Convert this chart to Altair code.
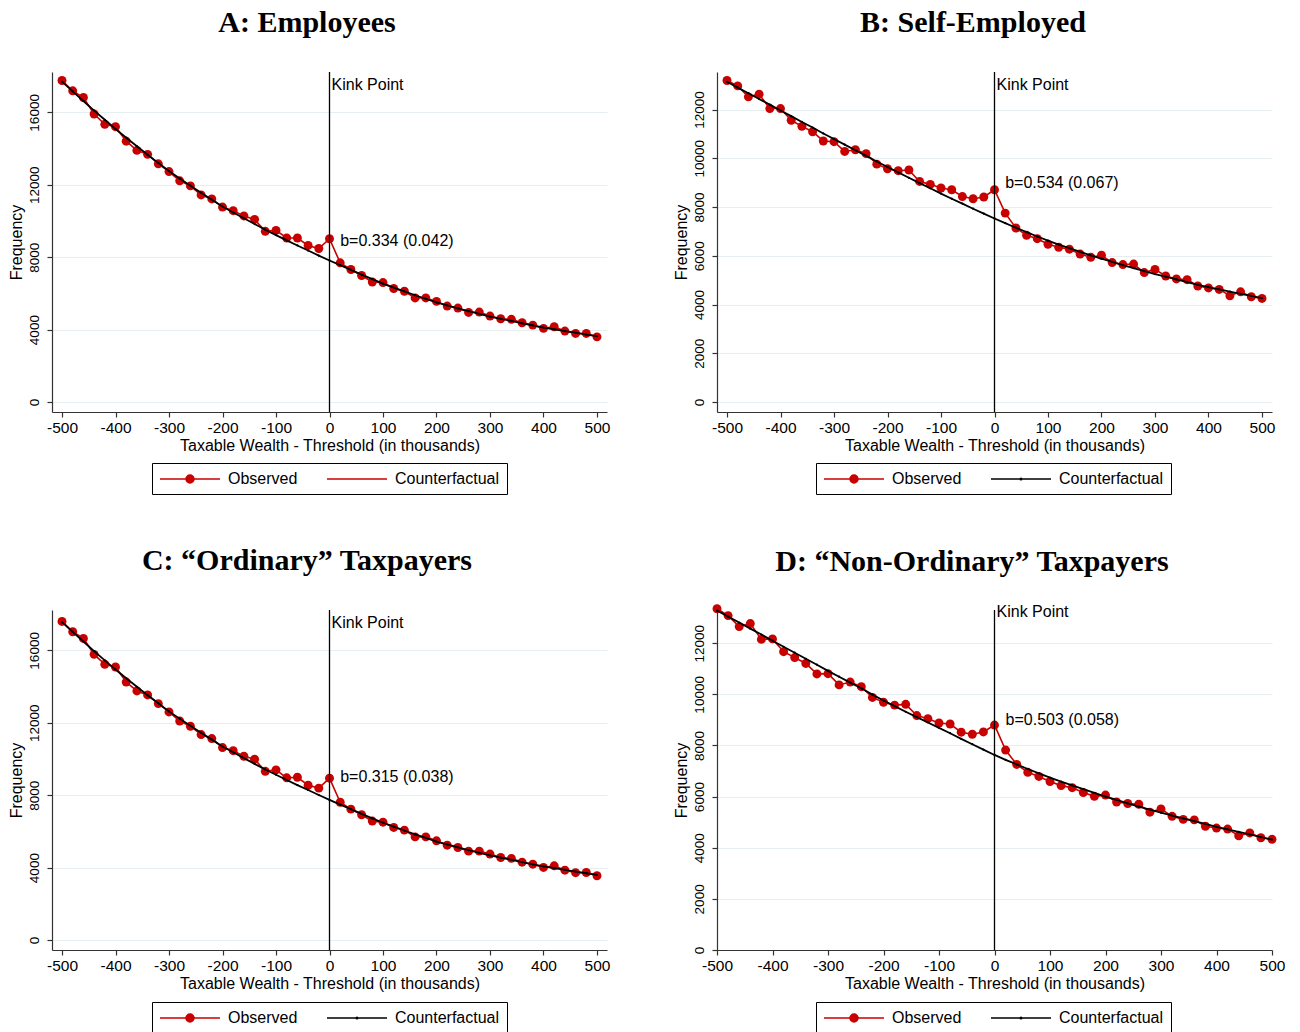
import altair as alt
import pandas as pd

# ---------------- data ----------------
X = list(range(-500, 501, 20))
SERIES = ["Observed", "Counterfactual"]
XTICKS = [-500, -400, -300, -200, -100, 0, 100, 200, 300, 400, 500]
KINK = [0]

A_OBS = [17760, 17190, 16820, 15910, 15340, 15210, 14410, 13900, 13680, 13160, 12730,
         12220, 11940, 11440, 11220, 10770, 10570, 10280, 10090, 9430, 9480, 9060, 9060,
         8650, 8480, 9020, 7690, 7320, 6990, 6630, 6600, 6270, 6120, 5750, 5750, 5560,
         5300, 5190, 4950, 4970, 4750, 4600, 4570, 4380, 4250, 4070, 4160, 3920, 3790,
         3790, 3600]
A_CF = [17700, 17160, 16630, 16100, 15590, 15080, 14600, 14130, 13660, 13210, 12760,
        12350, 11950, 11560, 11180, 10800, 10470, 10150, 9830, 9520, 9220, 8930, 8650,
        8370, 8090, 7820, 7560, 7300, 7040, 6790, 6540, 6320, 6110, 5900, 5700, 5500,
        5340, 5180, 5020, 4870, 4720, 4600, 4480, 4350, 4230, 4110, 4020, 3920, 3830,
        3730, 3640]

B_OBS = [13190, 12970, 12520, 12630, 12040, 12040, 11560, 11310, 11090, 10710, 10680,
         10280, 10350, 10190, 9760, 9570, 9490, 9520, 9050, 8930, 8780, 8710, 8430, 8340,
         8410, 8710, 7750, 7140, 6840, 6700, 6470, 6350, 6270, 6070, 5940, 6020, 5720,
         5640, 5660, 5310, 5440, 5170, 5050, 5020, 4760, 4680, 4620, 4360, 4520, 4320,
         4250]
B_CF = [13140, 12900, 12670, 12430, 12200, 11960, 11730, 11490, 11260, 11020, 10790,
        10560, 10330, 10100, 9870, 9640, 9420, 9200, 8980, 8770, 8550, 8340, 8140, 7930,
        7730, 7530, 7340, 7150, 6970, 6790, 6620, 6460, 6310, 6160, 6020, 5880, 5750,
        5620, 5490, 5370, 5250, 5140, 5030, 4920, 4810, 4710, 4620, 4530, 4440, 4350,
        4260]

C_OBS = [17600, 17030, 16660, 15780, 15230, 15080, 14250, 13760, 13540, 13060, 12600,
         12100, 11810, 11350, 11130, 10630, 10460, 10150, 9990, 9320, 9400, 8960, 8990,
         8550, 8390, 8940, 7610, 7230, 6920, 6570, 6510, 6220, 6070, 5700, 5700, 5480,
         5240, 5110, 4910, 4910, 4750, 4560, 4510, 4300, 4190, 4010, 4100, 3860, 3720,
         3730, 3550]
C_CF = [17560, 17020, 16490, 15960, 15450, 14940, 14460, 13990, 13520, 13080, 12630,
        12230, 11830, 11450, 11070, 10690, 10370, 10050, 9730, 9420, 9130, 8840, 8560,
        8290, 8010, 7740, 7480, 7230, 6970, 6720, 6480, 6260, 6050, 5840, 5640, 5440,
        5280, 5120, 4970, 4820, 4670, 4550, 4430, 4300, 4180, 4070, 3970, 3880, 3780,
        3690, 3600]

D_OBS = [13350, 13080, 12650, 12770, 12150, 12170, 11670, 11440, 11210, 10800, 10810,
         10370, 10480, 10300, 9880, 9690, 9580, 9610, 9170, 9050, 8880, 8840, 8520, 8440,
         8530, 8800, 7820, 7260, 6950, 6790, 6590, 6430, 6350, 6160, 6010, 6060, 5790,
         5730, 5700, 5390, 5520, 5230, 5110, 5090, 4840, 4770, 4730, 4470, 4580, 4390,
         4330]
D_CF = [13280, 13040, 12810, 12570, 12340, 12100, 11860, 11630, 11390, 11160, 10920,
        10690, 10460, 10240, 9990, 9760, 9540, 9320, 9110, 8900, 8690, 8480, 8260, 8050,
        7840, 7630, 7440, 7260, 7080, 6910, 6740, 6590, 6440, 6290, 6150, 6000, 5870,
        5740, 5610, 5490, 5370, 5260, 5150, 5040, 4930, 4820, 4720, 4620, 4520, 4420,
        4320]

for arr in (A_OBS, A_CF, B_OBS, B_CF, C_OBS, C_CF, D_OBS, D_CF):
    assert len(arr) == len(X)

# ---------------- styling ----------------
RED = "#c80000"
SANS = "Liberation Sans"
SERIF = "Liberation Serif"
XTITLE = "Taxable Wealth - Threshold (in thousands)"

# legend symbols (unit = 8px): a 60px line with a dot in its middle;
# concentric rings emulate a filled dot
OBS_PATH = ("M-1,0L6.5,0"
            "M3.25,0A0.5,0.5,0,1,1,2.25,0A0.5,0.5,0,1,1,3.25,0"
            "M3.0833,0A0.3333,0.3333,0,1,1,2.4167,0A0.3333,0.3333,0,1,1,3.0833,0"
            "M2.9167,0A0.1667,0.1667,0,1,1,2.5833,0A0.1667,0.1667,0,1,1,2.9167,0")
CF_PATH = ("M-1,0L6.5,0"
           "M2.85,0A0.1,0.1,0,1,1,2.65,0A0.1,0.1,0,1,1,2.85,0")
CF_PATH_PLAIN = "M-1,0L6.5,0"

W, H = 555, 340


def panel(title, obs, cf, xdom, ydom, yticks, kink_y, b_label, b_y,
          cf_path, cf_color, lx, ly, toff, tdx):
    df = pd.DataFrame({"x": X, "obs": obs, "cf": cf})
    xscale = alt.Scale(domain=xdom, nice=False, zero=False)
    yscale = alt.Scale(domain=ydom, nice=False, zero=False)
    xaxis = alt.Axis(values=XTICKS, title=XTITLE, grid=False, labelFlush=False,
                     labelOverlap=False, tickSize=5, labelPadding=3, titlePadding=2,
                     labelFontSize=15.5, titleFontSize=16,
                     labelExpr="'' + datum.value")
    yaxis = alt.Axis(values=yticks, title="Frequency", grid=True, labelFlush=False,
                     labelOverlap=False, tickSize=5, labelPadding=6, titlePadding=3,
                     labelAngle=270, labelAlign="center", labelBaseline="bottom",
                     labelFontSize=13.5, titleFontSize=16,
                     labelExpr="'' + datum.value")
    X_ = alt.X("x:Q", scale=xscale, axis=xaxis)

    def Y(f):
        return alt.Y(f, scale=yscale, axis=yaxis)

    base = alt.Chart(df)
    obs_line = base.mark_line(color=RED, strokeWidth=1.6).encode(x=X_, y=Y("obs:Q"))
    obs_pts = base.mark_circle(color=RED, size=80, opacity=1).encode(x=X_, y=Y("obs:Q"))
    cf_line = base.mark_line(color="black", strokeWidth=1.8).encode(x=X_, y=Y("cf:Q"))
    cf_pts = base.mark_circle(color="black", size=5, opacity=1).encode(x=X_, y=Y("cf:Q"))

    rule = alt.Chart(pd.DataFrame({"x": KINK})).mark_rule(
        color="black", strokeWidth=1.3).encode(x=X_)

    kdf = pd.DataFrame({"x": KINK, "y": [kink_y], "t": ["Kink Point"]})
    ktext = alt.Chart(kdf).mark_text(
        align="left", baseline="middle", dx=2, font=SANS, fontSize=16, color="black"
    ).encode(x=X_, y=Y("y:Q"), text="t:N")

    bdf = pd.DataFrame({"x": [20], "y": [b_y], "t": [b_label]})
    btext = alt.Chart(bdf).mark_text(
        align="left", baseline="middle", font=SANS, fontSize=16, color="black"
    ).encode(x=X_, y=Y("y:Q"), text="t:N")

    leg = alt.Legend(title=None, orient="none", legendX=lx, legendY=ly,
                     direction="horizontal", strokeColor="black", fillColor="white",
                     padding=7, symbolSize=256, symbolStrokeWidth=1.5,
                     symbolOpacity=1, labelFont=SANS, labelFontSize=16,
                     labelColor="black", labelOffset=51, columnPadding=26)
    ldf = pd.DataFrame({"series": SERIES})
    legend_layer = alt.Chart(ldf).mark_point(
        opacity=0, size=256, filled=False, strokeWidth=1.5
    ).encode(
        color=alt.Color("series:N", scale=alt.Scale(domain=SERIES, range=[RED, cf_color]),
                        legend=leg, sort=SERIES),
        shape=alt.Shape("series:N", scale=alt.Scale(domain=SERIES, range=[OBS_PATH, cf_path]),
                        legend=leg, sort=SERIES),
    )

    return alt.layer(obs_line, obs_pts, cf_line, cf_pts, rule, ktext, btext,
                     legend_layer).properties(
        width=W, height=H,
        title=alt.Title(title, font=SERIF, fontSize=30, fontWeight="bold",
                        color="black", anchor="middle", frame="bounds",
                        offset=toff, dx=tdx),
    )


PAD_DOM = [-518.7, 518.7]
A = panel("A: Employees", A_OBS, A_CF, PAD_DOM, [-550, 18230],
          [0, 4000, 8000, 12000, 16000], 17500, "b=0.334 (0.042)", 8920,
          CF_PATH_PLAIN, RED, 100, 391, 33, -2)
B = panel("B: Self-Employed", B_OBS, B_CF, PAD_DOM, [-410, 13540],
          [0, 2000, 4000, 6000, 8000, 10000, 12000], 13000, "b=0.534 (0.067)", 8970,
          CF_PATH, "black", 99, 391, 33, -1)
C = panel("C: \u201cOrdinary\u201d Taxpayers", C_OBS, C_CF, PAD_DOM, [-550, 18230],
          [0, 4000, 8000, 12000, 16000], 17500, "b=0.315 (0.038)", 9010,
          CF_PATH, "black", 100, 392, 33, -2)
D = panel("D: \u201cNon-Ordinary\u201d Taxpayers", D_OBS, D_CF, [-500, 500], [0, 13300],
          [0, 2000, 4000, 6000, 8000, 10000, 12000], 13240, "b=0.503 (0.058)", 9010,
          CF_PATH, "black", 99, 392, 27, -7)

row1 = alt.hconcat(A, B, spacing=63).resolve_scale(color="independent", shape="independent")
row2 = alt.hconcat(C, D, spacing=63).resolve_scale(color="independent", shape="independent")

chart = alt.vconcat(row1, row2, spacing=51).resolve_scale(
    color="independent", shape="independent"
).properties(
    padding={"left": 0, "top": 0, "right": 0, "bottom": 0}
).configure_view(stroke=None).configure_axis(
    domainColor="#333333", tickColor="#333333", gridColor="#e6eef1",
    labelColor="black", titleColor="black", labelFont=SANS, titleFont=SANS,
    titleFontWeight="normal", domainWidth=1.2, tickWidth=1.2
)

chart.save("out.html", embed_options={"renderer": "svg", "actions": False})
